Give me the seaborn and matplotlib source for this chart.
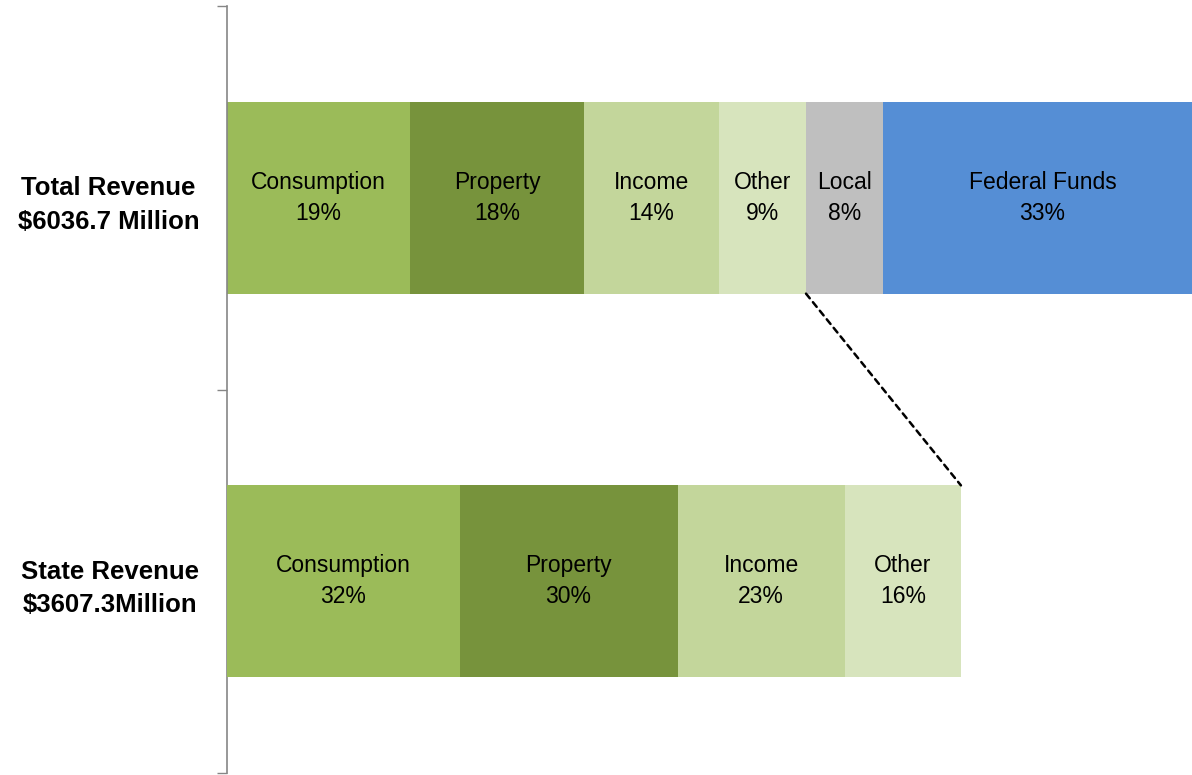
import numpy as np
import pandas as pd
import matplotlib
matplotlib.use("Agg")
import matplotlib.pyplot as plt
from matplotlib.patches import ConnectionPatch
import seaborn as sns

# Revenue rows
rows = ["Total Revenue\n$6036.7 Million", "State Revenue\n$3607.3Million"]

# Total revenue composition (percent)
total_sources = ["Consumption", "Property", "Income", "Other", "Local", "Federal Funds"]
total_pct = [19, 18, 14, 9, 8, 33]

# State revenue composition (percent)
state_sources = ["Consumption", "Property", "Income", "Other"]
state_pct = [32, 30, 23, 16]

colors = {
    "Consumption": "#9BBB59",
    "Property": "#77933C",
    "Income": "#C3D69B",
    "Other": "#D7E4BD",
    "Local": "#BFBFBF",
    "Federal Funds": "#558ED5",
}

sns.set_theme(style="white")
plt.rcParams["font.family"] = ["Liberation Sans", "DejaVu Sans"]
plt.rcParams["text.color"] = "black"

fig = plt.figure(figsize=(11.92, 7.75), dpi=100)
ax = fig.add_axes([227 / 1192, 2 / 775, 1 - 227 / 1192, 767 / 775])
ax2 = ax.twiny()


def stacked_row(axis, sources, values, row):
    """Draw one stacked bar: cumulative extents painted from the longest down."""
    cum = np.cumsum(values)
    df = pd.DataFrame({"source": sources, "value": values, "end": cum})
    for _, r in df.iloc[::-1].iterrows():
        sns.barplot(x=[r["end"]], y=[row], order=rows, orient="h",
                    color=colors[r["source"]], saturation=1, width=0.5,
                    linewidth=0, ax=axis)
    for _, r in df.iterrows():
        axis.text(r["end"] - r["value"] / 2, rows.index(row),
                  f"{r['source']}\n{r['value']:.0f}%",
                  ha="center", va="center", fontsize=16.5, linespacing=1.42,
                  color="black")
    return cum


top_cum = stacked_row(ax, total_sources, total_pct, rows[0])
bot_cum = stacked_row(ax2, state_sources, state_pct, rows[1])

ax.set_xlim(0, 100)
ax2.set_xlim(0, 132.8)
ax.set_ylim(1.5, -0.5)

# Category boundaries as tick marks, row names as labels
ax.set_yticks([-0.5, 0.5, 1.5])
ax.set_yticklabels([])
ax.set_yticks([0, 1], minor=True)
ax.set_yticklabels(rows, minor=True, fontsize=18.5, fontweight="bold",
                   multialignment="center", linespacing=1.5)
ax.tick_params(axis="y", which="major", left=True, length=7, width=1,
               color="#868686", direction="out")
ax.tick_params(axis="y", which="minor", left=True, length=0, pad=20,
               labelcolor="black")

for a in (ax, ax2):
    a.set_xlabel("")
    a.set_ylabel("")
    a.set_xticks([])
    for side in ("top", "right", "bottom"):
        a.spines[side].set_visible(False)
ax2.spines["left"].set_visible(False)
ax.spines["left"].set_color("#868686")
ax.spines["left"].set_linewidth(1.2)

# Dashed connector from the end of "Other" in the total row to the state row
con = ConnectionPatch(xyA=(top_cum[3], 0.25), coordsA=ax.transData,
                      xyB=(bot_cum[-1], 0.75), coordsB=ax2.transData,
                      color="black", linewidth=1.8, linestyle=(0, (2.4, 2.0)))
fig.add_artist(con)

fig.savefig("out.png", dpi=100)
